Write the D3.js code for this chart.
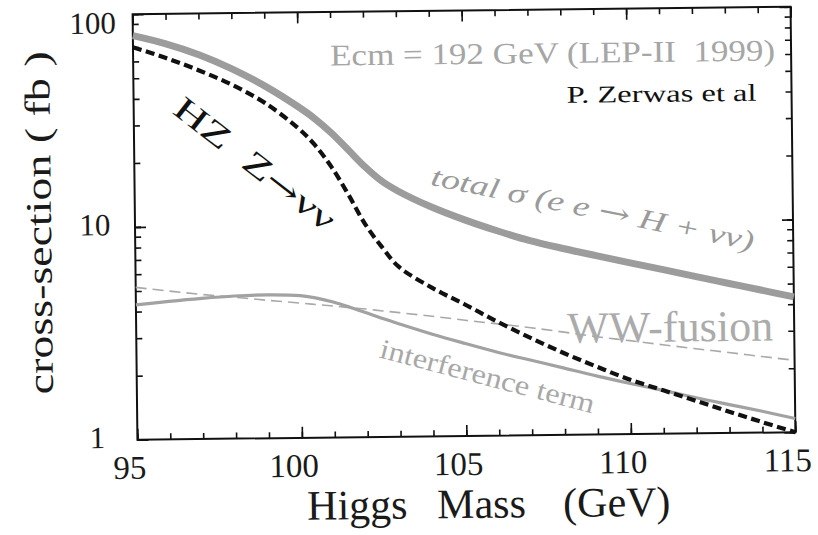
<!DOCTYPE html>
<html>
<head>
<meta charset="utf-8">
<script src="https://cdn.jsdelivr.net/npm/d3@7"></script>
<style>
  html, body { margin: 0; padding: 0; background: #fff; }
  svg { display: block; font-family: "Liberation Serif", "DejaVu Serif", serif; }
</style>
</head>
<body>
<svg id="chart" width="818" height="535"></svg>
<script>
// Higgs mass grid (GeV)
const mass = [95, 96, 97, 98, 99, 100, 100.5, 101, 101.5, 102, 102.5, 103,
              104, 105, 106, 107, 108, 109, 110, 111, 112, 113, 114, 115];

// total sigma(e e -> H + nu nu), fb
const totalXsec = [79.3, 72.3, 64, 54.7, 45.2, 36, 31.6, 27, 22.5, 18.7, 16.0, 14.3,
                   12.0, 10.4, 9.18, 8.22, 7.52, 6.93, 6.4, 5.92, 5.47, 5.06, 4.68, 4.33];

// HZ with Z -> nu nu, fb
const hzNuNu = [70, 62, 54, 46, 37.6, 28.5, 23.7, 18.6, 13.8, 10.0, 7.8, 6.3,
                5.0, 4.15, 3.42, 2.86, 2.42, 2.08, 1.8, 1.6, 1.42, 1.26, 1.12, 1.0];

// WW-fusion, fb
const wwFusion = [5.2, 4.98, 4.78, 4.62, 4.45, 4.3, 4.22, 4.15, 4.07, 4.0, 3.91, 3.83,
                  3.67, 3.5, 3.35, 3.2, 3.04, 2.88, 2.75, 2.62, 2.5, 2.39, 2.28, 2.18];

// interference term, fb
const interference = [4.3, 4.45, 4.58, 4.68, 4.72, 4.66, 4.53, 4.33, 4.09, 3.84, 3.6, 3.39,
                      3.02, 2.72, 2.46, 2.25, 2.06, 1.88, 1.73, 1.6, 1.47, 1.36, 1.26, 1.16];

const xTickValues = [95, 100, 105, 110, 115];
const xTickLabels = ["95", "100", "105", "110", "115"];
const yTickValues = [1, 10, 100];
const yTickLabels = ["1", "10", "100"];

const svg = d3.select("#chart");
const frame = { left: 135, right: 793, top: 10.5, bottom: 436 };

const x = d3.scaleLinear().domain([95, 115]).range([frame.left, frame.right]);
const y = d3.scaleLog().domain([1, 100]).range([frame.bottom, frame.top]);

const cx = (frame.left + frame.right) / 2, cy = (frame.top + frame.bottom) / 2;
// the whole figure sits slightly tilted on the page
const g = svg.append("g").attr("transform", `rotate(-0.65 ${cx} ${cy})`);

// ---------- axes (ticks point inward on all four sides) ----------
const minorX = d3.range(95, 116, 1);
const minorY = [];
for (const dec of [1, 10]) for (let k = 1; k <= 10; k++) minorY.push(dec * k);

function styleAxis(sel) {
  sel.select(".domain").remove();
  sel.selectAll(".tick line").attr("stroke", "#111").attr("stroke-width", 1.6);
  sel.selectAll(".tick text").remove();
}

g.append("g").attr("transform", `translate(0,${frame.bottom})`)
  .call(d3.axisBottom(x).tickValues(minorX).tickSize(-6)).call(styleAxis);
g.append("g").attr("transform", `translate(0,${frame.bottom})`)
  .call(d3.axisBottom(x).tickValues(xTickValues).tickSize(-11)).call(styleAxis);
g.append("g").attr("transform", `translate(0,${frame.top})`)
  .call(d3.axisTop(x).tickValues(minorX).tickSize(-6)).call(styleAxis);
g.append("g").attr("transform", `translate(0,${frame.top})`)
  .call(d3.axisTop(x).tickValues(xTickValues).tickSize(-11)).call(styleAxis);

g.append("g").attr("transform", `translate(${frame.left},0)`)
  .call(d3.axisLeft(y).tickValues(minorY).tickSize(-6)).call(styleAxis);
g.append("g").attr("transform", `translate(${frame.left},0)`)
  .call(d3.axisLeft(y).tickValues(yTickValues).tickSize(-11)).call(styleAxis);
g.append("g").attr("transform", `translate(${frame.right},0)`)
  .call(d3.axisRight(y).tickValues(minorY).tickSize(-6)).call(styleAxis);
g.append("g").attr("transform", `translate(${frame.right},0)`)
  .call(d3.axisRight(y).tickValues(yTickValues).tickSize(-11)).call(styleAxis);

// frame
g.append("rect")
  .attr("x", frame.left).attr("y", frame.top)
  .attr("width", frame.right - frame.left).attr("height", frame.bottom - frame.top)
  .attr("fill", "none").attr("stroke", "#111").attr("stroke-width", 2);

// tick labels
g.append("g").selectAll("text").data(xTickValues).join("text")
  .attr("x", d => x(d) - 8).attr("y", frame.bottom + 39)
  .attr("text-anchor", "middle").attr("font-size", 33).attr("fill", "#1a1a1a")
  .text((d, i) => xTickLabels[i]);

g.append("g").selectAll("text").data(yTickValues).join("text")
  .attr("x", 95)
  .attr("y", d => y(d) + (d === 100 ? 19 : 8))
  .attr("text-anchor", "middle").attr("font-size", 31).attr("fill", "#1a1a1a")
  .text((d, i) => yTickLabels[i]);

// ---------- curves ----------
const line = vals => d3.line()
  .x((d, i) => x(mass[i]))
  .y(d => y(d))
  .curve(d3.curveCatmullRom.alpha(0.5))(vals);

g.append("path").attr("d", line(wwFusion))
  .attr("fill", "none").attr("stroke", "#a9a9a9").attr("stroke-width", 1.6)
  .attr("stroke-dasharray", "11,6");

g.append("path").attr("d", line(interference))
  .attr("fill", "none").attr("stroke", "#a2a2a2").attr("stroke-width", 3.2);

g.append("path").attr("d", line(totalXsec))
  .attr("fill", "none").attr("stroke", "#9c9c9c").attr("stroke-width", 7);

g.append("path").attr("d", line(hzNuNu))
  .attr("fill", "none").attr("stroke", "#111").attr("stroke-width", 4.2)
  .attr("stroke-dasharray", "9,4.5");

// ---------- annotations ----------
const ARROW_FONT = "DejaVu Serif";

g.append("text")
  .attr("x", 332).attr("y", 64)
  .attr("font-size", 30).attr("fill", "#a6a6a6")
  .attr("textLength", 445).attr("lengthAdjust", "spacingAndGlyphs")
  .style("white-space", "pre")
  .text("Ecm = 192 GeV (LEP-II  1999)");

g.append("text")
  .attr("x", 568).attr("y", 104)
  .attr("font-size", 24).attr("fill", "#111")
  .attr("textLength", 190).attr("lengthAdjust", "spacingAndGlyphs")
  .text("P. Zerwas et al");

const hzLabel = g.append("text")
  .attr("transform", "translate(256,161) rotate(38.6)")
  .attr("text-anchor", "middle").attr("dy", "0.35em")
  .attr("font-size", 33).attr("fill", "#111")
  .attr("textLength", 195).attr("lengthAdjust", "spacingAndGlyphs")
  .style("white-space", "pre");
hzLabel.append("tspan").text("HZ  Z");
hzLabel.append("tspan").attr("font-family", ARROW_FONT).attr("font-size", 30).text("\u2192");
hzLabel.append("tspan").text("\u03bd\u03bd");

const totLabel = g.append("text")
  .attr("transform", "translate(593,209.5) rotate(12.15)")
  .attr("text-anchor", "middle").attr("dy", "0.35em")
  .attr("font-size", 28).attr("font-style", "italic").attr("fill", "#9a9a9a")
  .attr("textLength", 329).attr("lengthAdjust", "spacingAndGlyphs")
  .style("white-space", "pre");
totLabel.append("tspan").text("total \u03c3 (e e ");
totLabel.append("tspan").attr("font-family", ARROW_FONT).attr("font-style", "normal").text("\u2192");
totLabel.append("tspan").text(" H + \u03bd\u03bd)");

g.append("text")
  .attr("x", 566).attr("y", 344)
  .attr("font-size", 44).attr("fill", "#ababab")
  .attr("textLength", 206).attr("lengthAdjust", "spacingAndGlyphs")
  .text("WW-fusion");

g.append("text")
  .attr("transform", "translate(486,376) rotate(15.35)")
  .attr("text-anchor", "middle").attr("dy", "0.35em")
  .attr("font-size", 28).attr("fill", "#a8a8a8")
  .attr("textLength", 221).attr("lengthAdjust", "spacingAndGlyphs")
  .text("interference term");

// axis titles
g.append("text")
  .attr("transform", "translate(51,218) rotate(-90)")
  .attr("text-anchor", "middle")
  .attr("font-size", 36).attr("fill", "#1a1a1a")
  .attr("textLength", 343).attr("lengthAdjust", "spacingAndGlyphs")
  .style("white-space", "pre")
  .text("cross-section ( fb )");

const xTitle = g.append("text").attr("y", 518).attr("font-size", 42).attr("fill", "#1a1a1a");
xTitle.append("tspan").attr("x", 304).text("Higgs");
xTitle.append("tspan").attr("x", 434).text("Mass");
xTitle.append("tspan").attr("x", 560).text("(GeV)");
</script>
</body>
</html>
